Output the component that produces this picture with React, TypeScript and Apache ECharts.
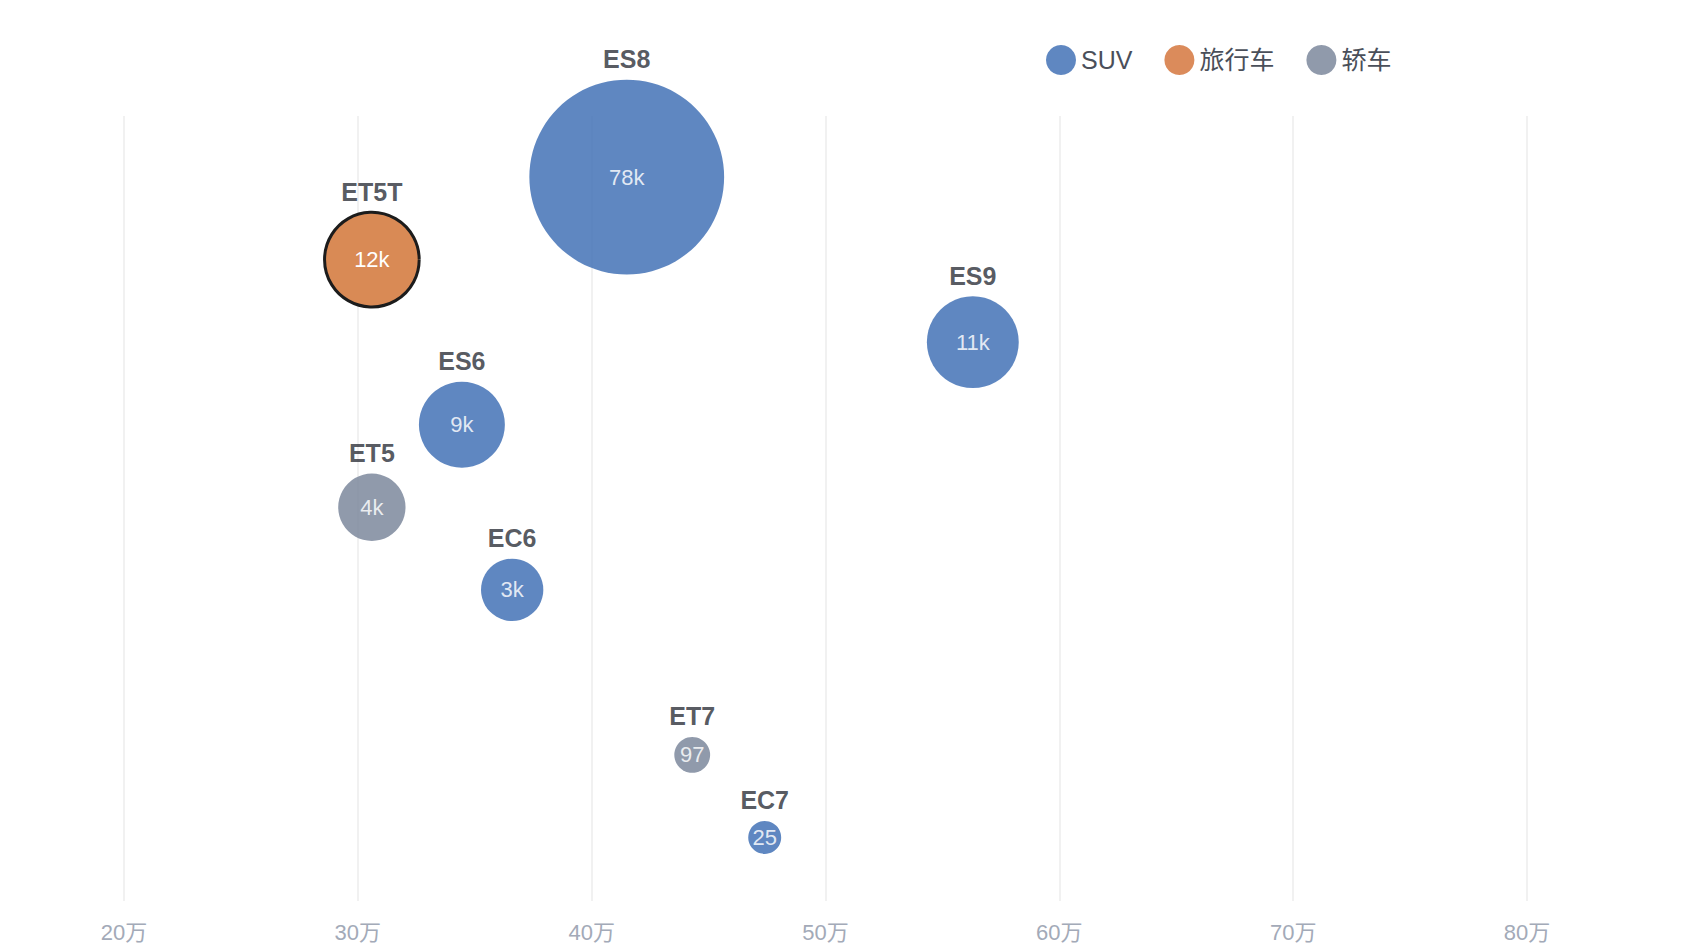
import React, { useEffect, useRef } from "react";
import * as echarts from "echarts";

const models = ["ES8", "ET5T", "ES9", "ES6", "ET5", "EC6", "ET9", "ET7", "EC7"];
const types = ["SUV", "旅行车", "SUV", "SUV", "轿车", "SUV", "轿车", "轿车", "SUV"];
const prices = [41.5, 30.6, 56.3, 34.45, 30.6, 36.6, 80.3, 44.3, 47.4];
const sales = [78000, 12000, 11000, 9000, 4000, 3000, 603, 97, 25];
const salesLabels = ["78k", "12k", "11k", "9k", "4k", "3k", "603", "97", "25"];
const typeNames = ["SUV", "旅行车", "轿车"];
const typeColors = ["#3f6fb5", "#d4733a", "#7a869a"];
const xTicks = [20, 30, 40, 50, 60, 70, 80];

const sizeOf = (v: number) => 30 + 0.59 * Math.sqrt(v);
const font = "'Helvetica Neue', Arial, 'Noto Sans CJK SC', sans-serif";

export default function App() {
  const ref = useRef<HTMLDivElement>(null);
  useEffect(() => {
    const chart = echarts.init(ref.current!, null, { renderer: "svg" });
    const rows = models.map((m, i) => ({ m, i, t: types[i] }));
    const series: any[] = typeNames.map((tn, ti) => ({
      name: tn,
      type: "scatter",
      itemStyle: { color: typeColors[ti], opacity: 0.83 },
      label: {
        show: true,
        position: "inside",
        color: "#fff",
        fontSize: 22,
        fontFamily: font,
        formatter: (p: any) => salesLabels[p.data.idx],
      },
      symbolSize: (_: any, p: any) => sizeOf(sales[p.data.idx]),
      data: rows
        .filter((r) => r.t === tn)
        .map((r) => ({
          idx: r.i,
          value: [prices[r.i], r.i + 1],
          itemStyle:
            r.m === "ET5T"
              ? { borderColor: "#1c1c1c", borderWidth: 3, opacity: 1, color: "#d98a55" }
              : undefined,
        })),
    }));
    series.push({
      name: "names",
      type: "scatter",
      silent: true,
      z: 1,
      itemStyle: { color: "rgba(0,0,0,0)" },
      symbolSize: (_: any, p: any) => sizeOf(sales[p.data.idx]),
      label: {
        show: true,
        position: "top",
        distance: 8,
        color: "#2b2f38",
        fontSize: 25,
        fontWeight: "bold",
        fontFamily: font,
        formatter: (p: any) => models[p.data.idx],
      },
      data: rows.map((r) => ({ idx: r.i, value: [prices[r.i], r.i + 1] })),
    });
    chart.setOption({
      animation: false,
      legend: {
        data: typeNames,
        left: 1033,
        top: 32,
        icon: "circle",
        itemWidth: 30,
        itemHeight: 30,
        itemGap: 32,
        textStyle: { fontSize: 25, color: "#4a4f5a", width: 130, fontFamily: font },
      },
      grid: { left: 116, right: 165, top: 108, bottom: 43 },
      xAxis: {
        type: "value",
        min: 20,
        max: 80,
        interval: 10,
        axisLine: { show: false },
        axisTick: { show: false },
        splitLine: { lineStyle: { color: "#ececec", width: 1.5 } },
        axisLabel: {
          color: "#a3aab8",
          fontSize: 22,
          margin: 20,
          fontFamily: font,
          formatter: (v: number) => (xTicks.includes(v) ? v + "万" : ""),
        },
      },
      yAxis: {
        type: "value",
        inverse: true,
        min: 0.26,
        max: 9.77,
        show: false,
        splitLine: { show: false },
      },
      series,
    });
    return () => chart.dispose();
  }, []);
  return <div ref={ref} style={{ width: 1684, height: 936 }} />;
}
